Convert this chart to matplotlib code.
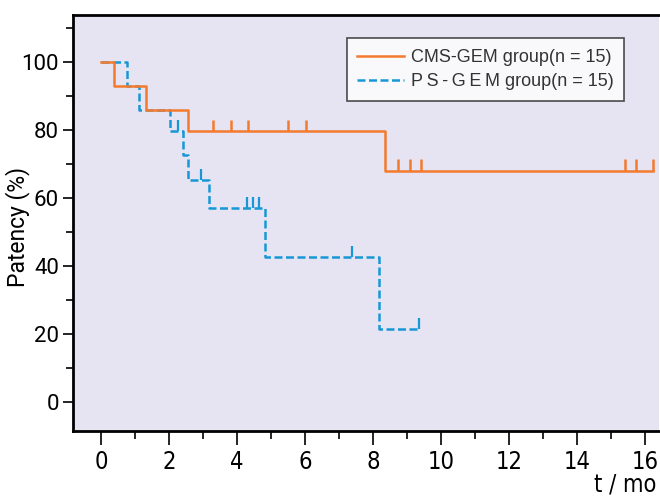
import matplotlib.pyplot as plt
from matplotlib.ticker import MultipleLocator

# Kaplan-Meier steps (time in months, patency in %)
cms_times = [0, 0.39, 1.32, 2.56, 8.35, 16.24]
cms_surv = [100, 92.9, 86.0, 79.7, 68.1, 68.1]
cms_censor_t = [3.29, 3.82, 4.32, 5.50, 6.03, 8.74, 9.09, 9.42, 15.41, 15.74, 16.23]
cms_censor_s = [79.7, 79.7, 79.7, 79.7, 79.7, 68.1, 68.1, 68.1, 68.1, 68.1, 68.1]

ps_times = [0, 0.77, 1.12, 2.03, 2.40, 2.57, 3.18, 4.84, 8.19, 9.36]
ps_surv = [100, 92.9, 86.0, 79.7, 72.7, 65.2, 57.1, 42.6, 21.5, 21.5]
ps_censor_t = [2.26, 2.94, 4.30, 4.48, 4.66, 7.39, 9.36]
ps_censor_s = [79.7, 65.2, 57.1, 57.1, 57.1, 42.6, 21.5]

orange = '#f47a2e'
blue = '#1797d6'

fig = plt.figure(figsize=(6.6, 4.96), dpi=100)
ax = fig.add_axes([73 / 660, 1 - 431 / 496, 586 / 660, 416 / 496])
ax.set_facecolor('#e6e4f2')

ax.step(ps_times, ps_surv, where='post', color=blue, lw=1.8,
        dashes=(3.2, 1.4), label='P\u2009S\u2009-\u2009G\u2009E\u2009M group(n = 15)')
ax.step(cms_times, cms_surv, where='post', color=orange, lw=1.8,
        label='CMS-GEM group(n = 15)')

# censor marks
ax.vlines(ps_censor_t, ps_censor_s, [s + 3.3 for s in ps_censor_s], color=blue, lw=1.6)
ax.vlines(cms_censor_t, cms_censor_s, [s + 3.3 for s in cms_censor_s], color=orange, lw=1.8)

ax.set_xlim(-0.82, 16.41)
ax.set_ylim(-8.6, 113.9)

ax.xaxis.set_major_locator(MultipleLocator(2))
ax.xaxis.set_minor_locator(MultipleLocator(1))
ax.yaxis.set_major_locator(MultipleLocator(20))
ax.yaxis.set_minor_locator(MultipleLocator(10))

ax.tick_params(axis='x', which='major', length=10, width=1.2, pad=4)
ax.tick_params(axis='x', which='minor', length=6, width=1.2)
ax.tick_params(axis='y', which='major', length=7, width=1.2, pad=3)
ax.tick_params(axis='y', which='minor', length=5, width=1.2)

for lab in ax.get_xticklabels():
    lab.set_family(['Liberation Sans Narrow', 'DejaVu Sans'])
    lab.set_fontstretch('condensed')
    lab.set_fontsize(17)
for lab in ax.get_yticklabels():
    lab.set_family('Roboto')
    lab.set_fontsize(16)

for side in ['left', 'bottom', 'top']:
    ax.spines[side].set_linewidth(2)
ax.spines['right'].set_visible(False)

ax.set_ylabel('Patency (%)', family='Roboto', fontsize=16.5)
ax.yaxis.set_label_coords(-0.074, 0.49)

fig.text(656 / 660, 1 - 484 / 496, 't / mo', ha='right', va='center', fontsize=17,
         family=['Liberation Sans Narrow', 'DejaVu Sans'], fontstretch='condensed')

handles, labels = ax.get_legend_handles_labels()
leg = ax.legend(handles[::-1], labels[::-1], loc='upper left',
                bbox_to_anchor=(0.467, 0.944), frameon=True,
                fancybox=False, handlelength=2.6, handletextpad=0.35,
                borderpad=0.6, labelspacing=0.4, borderaxespad=0,
                prop={'family': ['Liberation Sans', 'DejaVu Sans'], 'size': 13})
leg.get_frame().set_edgecolor('#222222')
leg.get_frame().set_linewidth(1.2)
for t in leg.get_texts():
    t.set_color('#333333')

fig.savefig('out.png', dpi=100)
